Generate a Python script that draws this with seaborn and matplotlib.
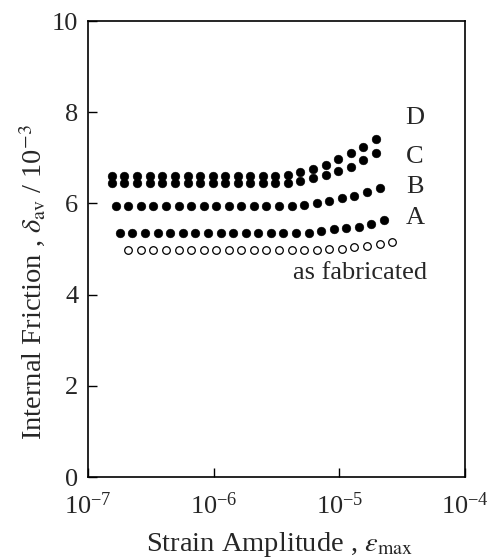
import matplotlib
matplotlib.use("Agg")
import matplotlib.pyplot as plt
import seaborn as sns
import pandas as pd

# ---- data ----
x_D = [1.55e-7, 1.95e-7, 2.45e-7, 3.1e-7, 3.9e-7, 4.9e-7, 6.2e-7, 7.8e-7, 9.8e-7,
       1.23e-6, 1.55e-6, 1.95e-6, 2.45e-6, 3.1e-6, 3.9e-6, 4.9e-6, 6.2e-6, 7.8e-6,
       9.8e-6, 1.23e-5, 1.55e-5, 1.95e-5]
y_D = [6.60, 6.60, 6.60, 6.60, 6.60, 6.60, 6.60, 6.60, 6.60, 6.60, 6.60, 6.60,
       6.60, 6.60, 6.62, 6.68, 6.75, 6.84, 6.97, 7.10, 7.24, 7.41]
x_C = x_D
y_C = [6.45, 6.45, 6.45, 6.45, 6.45, 6.45, 6.45, 6.45, 6.45, 6.45, 6.45, 6.45,
       6.45, 6.45, 6.45, 6.49, 6.55, 6.62, 6.70, 6.80, 6.95, 7.10]
x_B = [1.66e-7, 2.09e-7, 2.63e-7, 3.31e-7, 4.17e-7, 5.25e-7, 6.61e-7, 8.32e-7,
       1.05e-6, 1.32e-6, 1.66e-6, 2.09e-6, 2.63e-6, 3.31e-6, 4.17e-6, 5.25e-6,
       6.61e-6, 8.32e-6, 1.05e-5, 1.32e-5, 1.66e-5, 2.09e-5]
y_B = [5.95, 5.95, 5.95, 5.95, 5.95, 5.95, 5.95, 5.95, 5.95, 5.95, 5.95, 5.95,
       5.95, 5.95, 5.95, 5.97, 6.00, 6.05, 6.11, 6.17, 6.24, 6.34]
x_A = [1.80e-7, 2.26e-7, 2.85e-7, 3.59e-7, 4.52e-7, 5.69e-7, 7.16e-7, 9.02e-7,
       1.14e-6, 1.43e-6, 1.80e-6, 2.26e-6, 2.85e-6, 3.59e-6, 4.52e-6, 5.69e-6,
       7.16e-6, 9.02e-6, 1.14e-5, 1.43e-5, 1.80e-5, 2.26e-5]
y_A = [5.36, 5.36, 5.36, 5.36, 5.36, 5.36, 5.36, 5.36, 5.36, 5.36, 5.36, 5.36,
       5.36, 5.36, 5.36, 5.36, 5.39, 5.43, 5.46, 5.49, 5.54, 5.64]
x_F = [2.09e-7, 2.63e-7, 3.31e-7, 4.17e-7, 5.25e-7, 6.61e-7, 8.32e-7, 1.05e-6,
       1.32e-6, 1.66e-6, 2.09e-6, 2.63e-6, 3.31e-6, 4.17e-6, 5.25e-6, 6.61e-6,
       8.32e-6, 1.05e-5, 1.32e-5, 1.66e-5, 2.09e-5, 2.63e-5]
y_F = [4.97, 4.97, 4.97, 4.97, 4.97, 4.97, 4.97, 4.97, 4.97, 4.97, 4.97, 4.97,
       4.97, 4.97, 4.97, 4.97, 4.99, 5.01, 5.04, 5.07, 5.10, 5.16]

series_labels = ["D", "C", "B", "A", "as fabricated"]
label_x = [4.0e-5, 4.0e-5, 4.0e-5, 4.0e-5, 4.98e-5]
label_y = [7.87, 7.02, 6.36, 5.68, 4.47]
y_ticks = [0, 2, 4, 6, 8, 10]

# ---- style ----
sns.set_style("white")
plt.rcParams["font.family"] = ["Liberation Serif", "DejaVu Serif"]
plt.rcParams["mathtext.fontset"] = "stix"

fig = plt.figure(figsize=(4.88, 5.59), dpi=100)
ax = fig.add_axes([88 / 488, 1 - 477 / 559, (465 - 88) / 488, (477 - 21) / 559])

filled = [(x_D, y_D), (x_C, y_C), (x_B, y_B), (x_A, y_A)]
for xs, ys in filled:
    df = pd.DataFrame({"x": xs, "y": ys})
    sns.scatterplot(data=df, x="x", y="y", ax=ax, color="black", s=40,
                    edgecolor="black", linewidth=0.3, marker="o", zorder=3)
df = pd.DataFrame({"x": x_F, "y": y_F})
sns.scatterplot(data=df, x="x", y="y", ax=ax, facecolor="white", s=30,
                edgecolor="black", linewidth=0.9, marker="o", zorder=3)

ax.set_xscale("log")
ax.set_xlim(1e-7, 1e-4)
ax.set_ylim(0, 10)
ax.set_yticks(y_ticks)
ax.set_xticks([1e-7, 1e-6, 1e-5, 1e-4])
ax.yaxis.set_minor_locator(matplotlib.ticker.NullLocator())
ax.xaxis.set_minor_locator(matplotlib.ticker.NullLocator())

for sp in ax.spines.values():
    sp.set_visible(True)
    sp.set_color("black")
    sp.set_linewidth(1.2)

ax.tick_params(axis="both", which="major", direction="in", length=6.5,
               width=1.0, color="black", labelsize=19,
               bottom=True, left=True, top=False, right=False)
ax.tick_params(axis="x", pad=11)
ax.tick_params(axis="y", pad=7)

for lab, lx, ly in zip(series_labels, label_x, label_y):
    ha = "right" if lab == "as fabricated" else "center"
    ax.text(lx, ly, lab, ha=ha, va="center", fontsize=19)

ax.set_xlabel(r"Strain Amplitude , $\varepsilon_{\rm max}$", fontsize=20.5)
ax.set_ylabel(r"Internal Friction , $\delta_{\rm av}$ / 10$^{-3}$", fontsize=20.5)
ax.xaxis.set_label_coords(0.509, -0.149)
ax.yaxis.set_label_coords(-0.146, 0.428)
ax.xaxis.label.set_va("center")
ax.yaxis.label.set_va("center")

fig.savefig("out.png", dpi=100, facecolor="white")
